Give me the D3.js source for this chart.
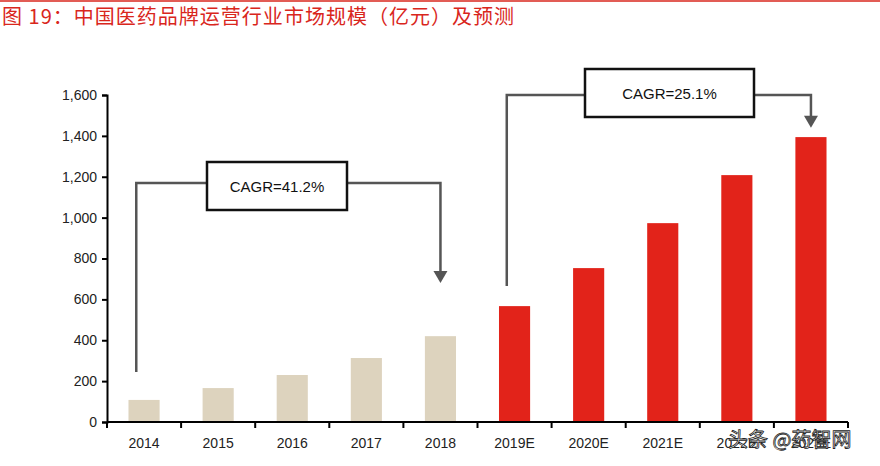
<!DOCTYPE html>
<html><head><meta charset="utf-8">
<script src="https://cdn.jsdelivr.net/npm/d3@7"></script>
<style>body{margin:0;background:#fff}</style>
</head><body><div id="chart"></div>
<script>
const years = ["2014","2015","2016","2017","2018","2019E","2020E","2021E","2022E","2023E"]
const values = [108,166,230,313,420,567,753,973,1208,1394]
const yTicks = [0,200,400,600,800,1000,1200,1400,1600]

const width = 880, height = 466
const margin = {top: 95, right: 32, bottom: 44, left: 107}

const svg = d3.select("#chart").append("svg")
    .attr("width", width).attr("height", height)
    .style("font-family", "Arial, 'Liberation Sans', sans-serif")

svg.append("line").attr("x1",0).attr("x2",width).attr("y1",1).attr("y2",1)
    .attr("stroke","#d9261c").attr("stroke-width",1.5)
svg.append("text").attr("x",2).attr("y",24)
    .attr("font-family","'Noto Sans CJK SC', sans-serif")
    .attr("font-size",20).attr("fill","#d9261c").attr("textLength",512)
    .text("图 19：中国医药品牌运营行业市场规模（亿元）及预测")

let x = d3.scaleBand().domain(years)
    .range([margin.left, width - margin.right]).paddingInner(0.58).paddingOuter(0.29)
let y = d3.scaleLinear().domain([0,1600]).range([height - margin.bottom, margin.top])

svg.selectAll("rect.bar").data(values).join("rect")
    .attr("x",(d,i)=>x(years[i])).attr("width",x.bandwidth())
    .attr("y",d=>y(d)).attr("height",d=>y(0)-y(d))
    .attr("fill",(d,i)=>i<5 ? "#ddd3be" : "#e2231a")

// axes
let yAxis = d3.axisLeft(y).tickValues(yTicks).tickFormat(d3.format(",")).tickSize(5)
let gy = svg.append("g").attr("transform",`translate(${margin.left},0)`).call(yAxis)
let boundaries = d3.range(years.length+1).map(i => margin.left + i*(width-margin.right-margin.left)/years.length)
let gx = svg.append("g")
gx.append("line").attr("x1",margin.left).attr("x2",width-margin.right)
    .attr("y1",y(0)).attr("y2",y(0)).attr("stroke","#000").attr("stroke-width",2)
gx.selectAll("line.t").data(boundaries).join("line")
    .attr("x1",d=>d).attr("x2",d=>d).attr("y1",y(0)).attr("y2",y(0)+6)
    .attr("stroke","#000").attr("stroke-width",2)
gx.selectAll("text").data(years).join("text")
    .attr("x",d=>x(d)+x.bandwidth()/2).attr("y",y(0)+26)
    .attr("text-anchor","middle").attr("font-size",14).attr("fill","#222").text(d=>d)
gy.select(".domain").attr("stroke-width",2)
gy.selectAll(".tick line").attr("stroke-width",2)
gy.selectAll(".tick text").attr("font-size",14).attr("fill","#222").attr("dx",-2)

// CAGR brackets
function bracket(i0, i1, yTop, yStart, yEnd, label, boxX, boxW, boxY) {
    let x0 = x(years[i0]) + x.bandwidth()/4, x1 = x(years[i1]) + x.bandwidth()/2
    svg.append("path")
        .attr("d",`M${x0},${y(yStart)}V${y(yTop)}H${x1}V${y(yEnd)-10}`)
        .attr("fill","none").attr("stroke","#555").attr("stroke-width",2.5)
    svg.append("path")
        .attr("d",`M${x1-7},${y(yEnd)-12}L${x1+7},${y(yEnd)-12}L${x1},${y(yEnd)}Z`)
        .attr("fill","#555")
    svg.append("rect").attr("x",boxX).attr("y",boxY).attr("width",boxW).attr("height",48)
        .attr("fill","#fff").attr("stroke","#111").attr("stroke-width",2.5)
    svg.append("text").attr("x",boxX+boxW/2).attr("y",boxY+30).attr("text-anchor","middle")
        .attr("font-size",15).attr("fill","#111").text(label)
}
bracket(0, 4, 1170, 245, 680, "CAGR=41.2%", 207, 140, 162)
bracket(5, 9, 1600, 665, 1440, "CAGR=25.1%", 585, 169, 69)

// watermark
svg.append("text").attr("x",728).attr("y",447)
    .attr("font-family","'Noto Sans CJK SC', sans-serif").attr("font-size",20)
    .attr("fill","#fff").attr("stroke","#222").attr("stroke-width",0.8)
    .text("头条 @药智网")
</script></body></html>
